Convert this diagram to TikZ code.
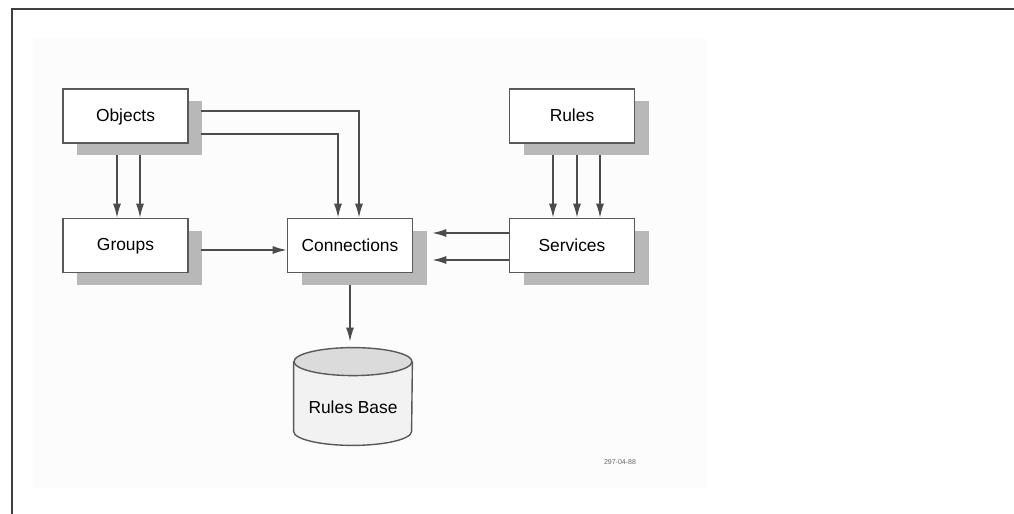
\documentclass[tikz,border=0pt]{standalone}
\usepackage{fontspec}
\setmainfont{Liberation Sans}
\usepackage{tikz}
\usetikzlibrary{arrows.meta, calc, shadows}

\begin{document}
\begin{tikzpicture}[
    x=0.5pt, y=-0.5pt,
    blk/.style={draw=black!65, line width=0.8pt, fill=white, minimum width=62.5pt, minimum height=27pt,
        font=\fontsize{8.7}{10}\selectfont, text depth=0.6pt,
        drop shadow={fill=black!28, opacity=1, shadow xshift=7pt, shadow yshift=-6pt}},
    arr/.style={-{Latex[length=7pt, width=4pt]}, line width=0.7pt, draw=black!70},
    drum/.style={draw=black!65, line width=0.7pt}
]
    % frame
    \useasboundingbox (0,0) rectangle (1014,514);
    \fill[black!1] (33,38) rectangle (706,488);
    \draw[black!75, line width=1.2pt] (12,514) -- (12,9) -- (1014,9);

    % boxes
    \node[blk] (obj) at (125.5,116) {Objects};
    \node[blk] (grp) at (125.5,245.5) {Groups};
    \node[blk] (con) at (350,245.5) {Connections};
    \node[blk] (rul) at (572,116) {Rules};
    \node[blk] (srv) at (572,245.5) {Services};

    % rules base drum
    \node[minimum width=59pt, minimum height=48.5pt, inner sep=0pt] (base) at (353,396.5) {};
    \draw[drum, fill=black!5] ($(base.north west)+(0,-7pt)$) -- ($(base.south west)+(0,7pt)$)
        arc[start angle=180, end angle=360, x radius=29.5pt, y radius=7pt]
        -- ($(base.north east)+(0,-7pt)$);
    \draw[drum, fill=black!14] ($(base.north)+(0,-7pt)$) ellipse[x radius=29.5pt, y radius=7pt];
    \node[font=\fontsize{8.7}{10}\selectfont] (basetxt) at (353,407) {Rules Base};
    \node[font=\fontsize{3.5}{4}\selectfont, text=black!60] (tag) at (620,462) {297-04-88};

    % objects to groups
    \foreach \dx in {-8.5,14.5}
        \draw[arr, shorten <=5.5pt] ($(obj.south)+(\dx,0)$) -- ($(grp.north)+(\dx,0)$);
    % objects to connections
    \draw[arr] ($(obj.east)+(12,-5)$) -| ($(con.north)+(9,0)$);
    \draw[arr] ($(obj.east)+(12,18)$) -| ($(con.north)+(-12,0)$);
    % groups to connections
    \draw[arr] ($(grp.east)+(12,4.5)$) -- ($(con.west)+(0,4.5)$);
    % rules to services
    \foreach \dx in {-19,5,28}
        \draw[arr, shorten <=5.5pt] ($(rul.south)+(\dx,0)$) -- ($(srv.north)+(\dx,0)$);
    % services to connections
    \foreach \dy in {-12.5,14.5}
        \draw[arr, shorten >=9.5pt] ($(srv.west)+(0,\dy)$) -- ($(con.east)+(0,\dy)$);
    % connections to rules base
    \draw[arr, shorten <=6pt, shorten >=3pt] (con.south) -- (con.south |- base.north);
\end{tikzpicture}
\end{document}
